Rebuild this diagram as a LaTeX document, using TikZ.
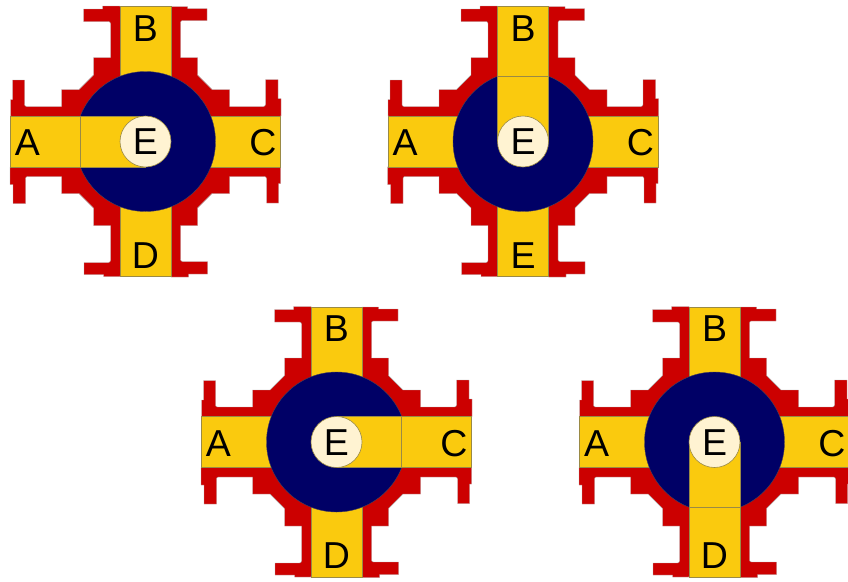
\documentclass[tikz,border=0pt]{standalone}
\usepackage{fontspec}
\setmainfont{Liberation Sans}
\definecolor{bodyred}{HTML}{CC0000}
\definecolor{portyellow}{HTML}{FACA0E}
\definecolor{ballnavy}{HTML}{000066}
\definecolor{seatcream}{HTML}{FFF3D2}
\definecolor{edgeolive}{HTML}{9A8A45}
\tikzset{
  bodyshape/.style={fill=bodyred,draw=gray!60,line width=0.4pt},
  portshape/.style={fill=portyellow,draw=edgeolive,line width=0.6pt},
  rotorfill/.style={fill=portyellow},
  rotoredge/.style={draw=edgeolive,line width=0.6pt},
  ballshape/.style={fill=ballnavy,draw=edgeolive!50!ballnavy,line width=0.4pt},
  seatshape/.style={fill=seatcream,draw=edgeolive,line width=0.6pt},
  letter/.style={font=\fontsize{37.5}{37.5}\selectfont,text=black,inner sep=0pt}
}
% #1 name, #2 x, #3 y, #4 rotor angle, #5 lower label
\newcommand{\valve}[5]{%
  \begin{scope}[shift={(#2,#3)}]
    \foreach \q in {0,90,180,270}{
      \path[bodyshape,rotate=\q] (0,0) -- (135,25.5) -- (135,42) -- (133,42) -- (133,61.5) -- (121,61.5)
        [rounded corners=2pt] -- (121,35) [sharp corners] -- (84,35) -- (84,52) -- (66.5,52) -- (52,66.5) -- (52,84) -- (35,84)
        [rounded corners=2pt] -- (35,120) [sharp corners] -- (62,120) -- (62,132.5) -- (43,132.5) -- (43,135.5) -- (25.5,135.5) -- cycle;
    }
    \foreach \q in {0,90,180,270}{
      \path[portshape,rotate=\q] (-135,-25.5) rectangle (0,25.5);
    }
    \path[ballshape] (0,0) circle[radius=70];
    \path[rotorfill,rotate=#4] (-71,-25.5) rectangle (0,25.5);
    \path[rotoredge,rotate=#4] (-71,-25.5) -- (0,-25.5) (0,25.5) -- (-71,25.5) (-65,-25.5) -- (-65,25.5);
    \node[circle,minimum size=51pt,inner sep=0pt,seatshape] (#1seat) at (0,0) {};
    \node[letter] (#1e) at (0,0.5) {E};
    \node[letter] (#1a) at (-118,1.5) {A};
    \node[letter] (#1b) at (0,-113) {B};
    \node[letter] (#1c) at (117.5,1.5) {C};
    \node[letter] (#1d) at (0,114) {#5};
  \end{scope}
}
\begin{document}
\begin{tikzpicture}[x=1pt,y=-1pt]
  \useasboundingbox (0,0) rectangle (848,581);
  \clip (0,0) rectangle (848,581);
  \valve{va}{145.5}{141.5}{0}{D}
  \valve{vb}{523}{141.5}{270}{E}
  \valve{vc}{336.5}{442}{180}{D}
  \valve{vd}{714.5}{442}{90}{D}
\end{tikzpicture}
\end{document}
